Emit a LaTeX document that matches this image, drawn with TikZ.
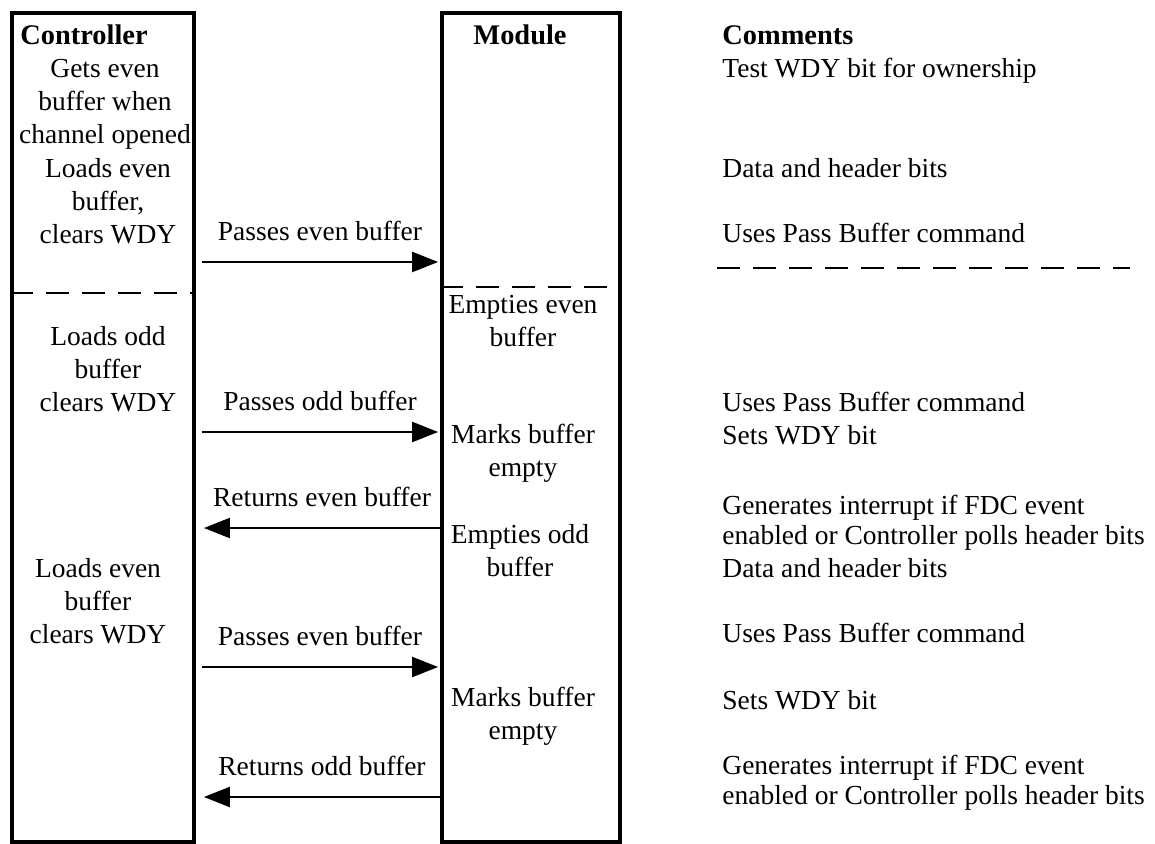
\documentclass[tikz,border=0pt]{standalone}
\usepackage{fontspec}
\setmainfont{Liberation Serif}
\usetikzlibrary{arrows.meta,positioning}

\begin{document}
\begin{tikzpicture}[x=0.5pt,y=-0.5pt,
  font=\fontsize{13.75}{16.5}\selectfont,
  colbox/.style={draw,line width=1.9pt,minimum height=414.5pt,inner sep=0pt},
  hdr/.style={font=\fontsize{14.2}{16.5}\selectfont\bfseries,inner sep=0pt},
  txt/.style={align=center,inner sep=0pt},
  cmt/.style={align=left,anchor=west,inner sep=0pt,font=\fontsize{13.75}{15}\selectfont},
  msg/.style={line width=1.1pt,-{Triangle[length=13pt,width=10pt]}},
  lbl/.style={above=10pt,inner sep=0pt},
  sep/.style={line width=1.1pt,dash pattern=on 11.5pt off 6.5pt}]

  \useasboundingbox (0,0) rectangle (1155,844);

  % the two columns
  \node[colbox,minimum width=91pt] (ctrl) at (103,427.5) {};
  \node[colbox,minimum width=89pt] (mod) at (531,427.5) {};

  % headings
  \node[hdr,anchor=west] (ctrlhdr) at (20,35) {Controller};
  \node[hdr] (modhdr) at (520,35) {Module};
  \node[hdr,anchor=west] (cmthdr) at (722,35) {Comments};

  % controller side
  \node[txt] (c1) at (105,104) {Gets even\\buffer when\\channel opened};
  \node[txt] (c2) at (108,201) {Loads even\\buffer,\\clears WDY};
  \node[txt] (c3) at (108,369) {Loads odd\\buffer\\clears WDY};
  \node[txt] (c4) at (98,601) {Loads even\\buffer\\clears WDY};

  % module side
  \node[txt] (m1) at (523,321) {Empties even\\buffer};
  \node[txt] (m2) at (523,453) {Marks buffer\\empty};
  \node[txt] (m3) at (520,551) {Empties odd\\buffer};
  \node[txt] (m4) at (523,716) {Marks buffer\\empty};

  % comments
  \node[cmt] (k1) at (722,71) {Test WDY bit for ownership};
  \node[cmt] (k2) at (722,168) {Data and header bits};
  \node[cmt] (k3) at (722,233) {Uses Pass Buffer command};
  \node[cmt] (k4) at (722,402) {Uses Pass Buffer command};
  \node[cmt] (k5) at (722,435) {Sets WDY bit};
  \node[cmt] (k6) at (722,523) {Generates interrupt if FDC event\\enabled or Controller polls header bits};
  \node[cmt] (k7) at (722,568) {Data and header bits};
  \node[cmt] (k8) at (722,633) {Uses Pass Buffer command};
  \node[cmt] (k9) at (722,700) {Sets WDY bit};
  \node[cmt] (k10) at (722,783) {Generates interrupt if FDC event\\enabled or Controller polls header bits};

  % draw dashed separators
  \coordinate (sepl) at (717,268);
  \coordinate (sepr) at (1130,268);
  \draw[sep] (ctrl.west |- 0,293) -- (ctrl.east |- 0,293);
  \draw[sep] (mod.west |- 0,287) -- (mod.east |- 0,287);
  \draw[sep] (sepl) -- (sepr);

  % draw messages
  \draw[msg] ([xshift=3pt]ctrl.east |- 0,262) -- node[lbl] {Passes even buffer} ([xshift=-1pt]mod.west |- 0,262);
  \draw[msg] ([xshift=3pt]ctrl.east |- 0,432) -- node[lbl] {Passes odd buffer} ([xshift=-1pt]mod.west |- 0,432);
  \draw[msg] (mod.west |- 0,528) -- node[lbl] {Returns even buffer} ([xshift=4pt]ctrl.east |- 0,528);
  \draw[msg] ([xshift=3pt]ctrl.east |- 0,667) -- node[lbl] {Passes even buffer} ([xshift=-1pt]mod.west |- 0,667);
  \draw[msg] (mod.west |- 0,797) -- node[lbl] {Returns odd buffer} ([xshift=4pt]ctrl.east |- 0,797);

\end{tikzpicture}
\end{document}
